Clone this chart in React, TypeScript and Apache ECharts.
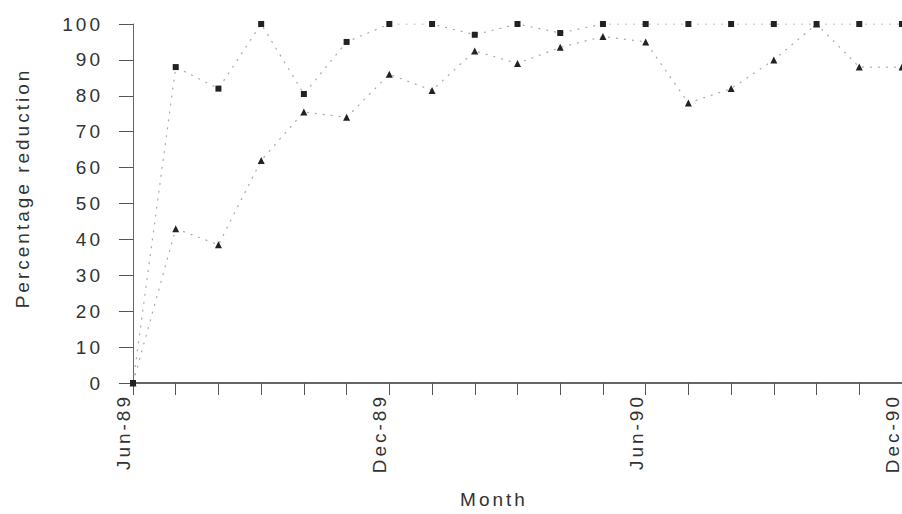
import React, { useEffect, useRef } from "react";
import * as echarts from "echarts";

const months = [
  "Jun-89", "Jul-89", "Aug-89", "Sep-89", "Oct-89", "Nov-89", "Dec-89",
  "Jan-90", "Feb-90", "Mar-90", "Apr-90", "May-90", "Jun-90",
  "Jul-90", "Aug-90", "Sep-90", "Oct-90", "Nov-90", "Dec-90",
];
const seriesSquares = [0, 88, 82, 100, 80.5, 95, 100, 100, 97, 100, 97.5, 100, 100, 100, 100, 100, 100, 100, 100];
const seriesTriangles = [0, 43, 38.5, 62, 75.5, 74, 86, 81.5, 92.5, 89, 93.5, 96.5, 95, 78, 82, 90, 100, 88, 88];
const yTicks = { min: 0, max: 100, interval: 10 };
const yTitle = "Percentage reduction";
const xTitle = "Month";

export default function App() {
  const ref = useRef<HTMLDivElement>(null);
  useEffect(() => {
    if (!ref.current) return;
    const chart = echarts.init(ref.current, null, { renderer: "svg" });
    const font = "'Liberation Sans', Arial, sans-serif";
    chart.setOption({
      animation: false,
      backgroundColor: "#ffffff",
      grid: {
        left: 133,
        right: 0,
        top: 24,
        bottom: 131,
        containLabel: false,
        outerBoundsMode: "none",
      },
      xAxis: {
        type: "category",
        data: months,
        boundaryGap: false,
        axisLine: { lineStyle: { color: "#333", width: 1.5 } },
        axisTick: { show: true, interval: 0, length: 12, lineStyle: { color: "#555" } },
        axisLabel: {
          interval: 5,
          rotate: 90,
          margin: 11,
          color: "#333",
          fontSize: 19,
          fontFamily: font,
          hideOverlap: false,
          verticalAlign: "bottom",
        },
        splitLine: { show: false },
      },
      yAxis: {
        type: "value",
        min: yTicks.min,
        max: yTicks.max,
        interval: yTicks.interval,
        axisLine: { show: true, lineStyle: { color: "#666", width: 1 } },
        axisTick: { show: true, length: 14, lineStyle: { color: "#555" } },
        axisLabel: { margin: 30, color: "#333", fontSize: 19, fontFamily: font },
        splitLine: { show: false },
      },
      graphic: [
        {
          type: "text",
          x: 22,
          y: 188,
          rotation: Math.PI / 2,
          style: {
            text: yTitle,
            fill: "#333",
            fontSize: 19,
            fontFamily: font,
            align: "center",
            verticalAlign: "middle",
          },
        },
        {
          type: "text",
          x: 494,
          y: 499,
          style: {
            text: xTitle,
            fill: "#333",
            fontSize: 19,
            fontFamily: font,
            align: "center",
            verticalAlign: "middle",
          },
        },
      ],
      series: [
        {
          name: "Series A",
          type: "line",
          data: seriesSquares,
          symbol: "rect",
          symbolSize: 6,
          showSymbol: true,
          itemStyle: { color: "#222" },
          lineStyle: { color: "#aaa", width: 1.2, type: [2, 6] },
          z: 3,
        },
        {
          name: "Series B",
          type: "line",
          data: seriesTriangles,
          symbol: "triangle",
          symbolSize: 7,
          showSymbol: true,
          itemStyle: { color: "#222" },
          lineStyle: { color: "#aaa", width: 1.2, type: [2, 6] },
          z: 3,
        },
      ],
    });
    return () => chart.dispose();
  }, []);
  return (
    <>
      <style>{`#chartbox text { letter-spacing: 3px; }`}</style>
      <div
        id="chartbox"
        ref={ref}
        style={{ position: "fixed", left: 0, top: 0, width: 902, height: 514 }}
      />
    </>
  );
}
